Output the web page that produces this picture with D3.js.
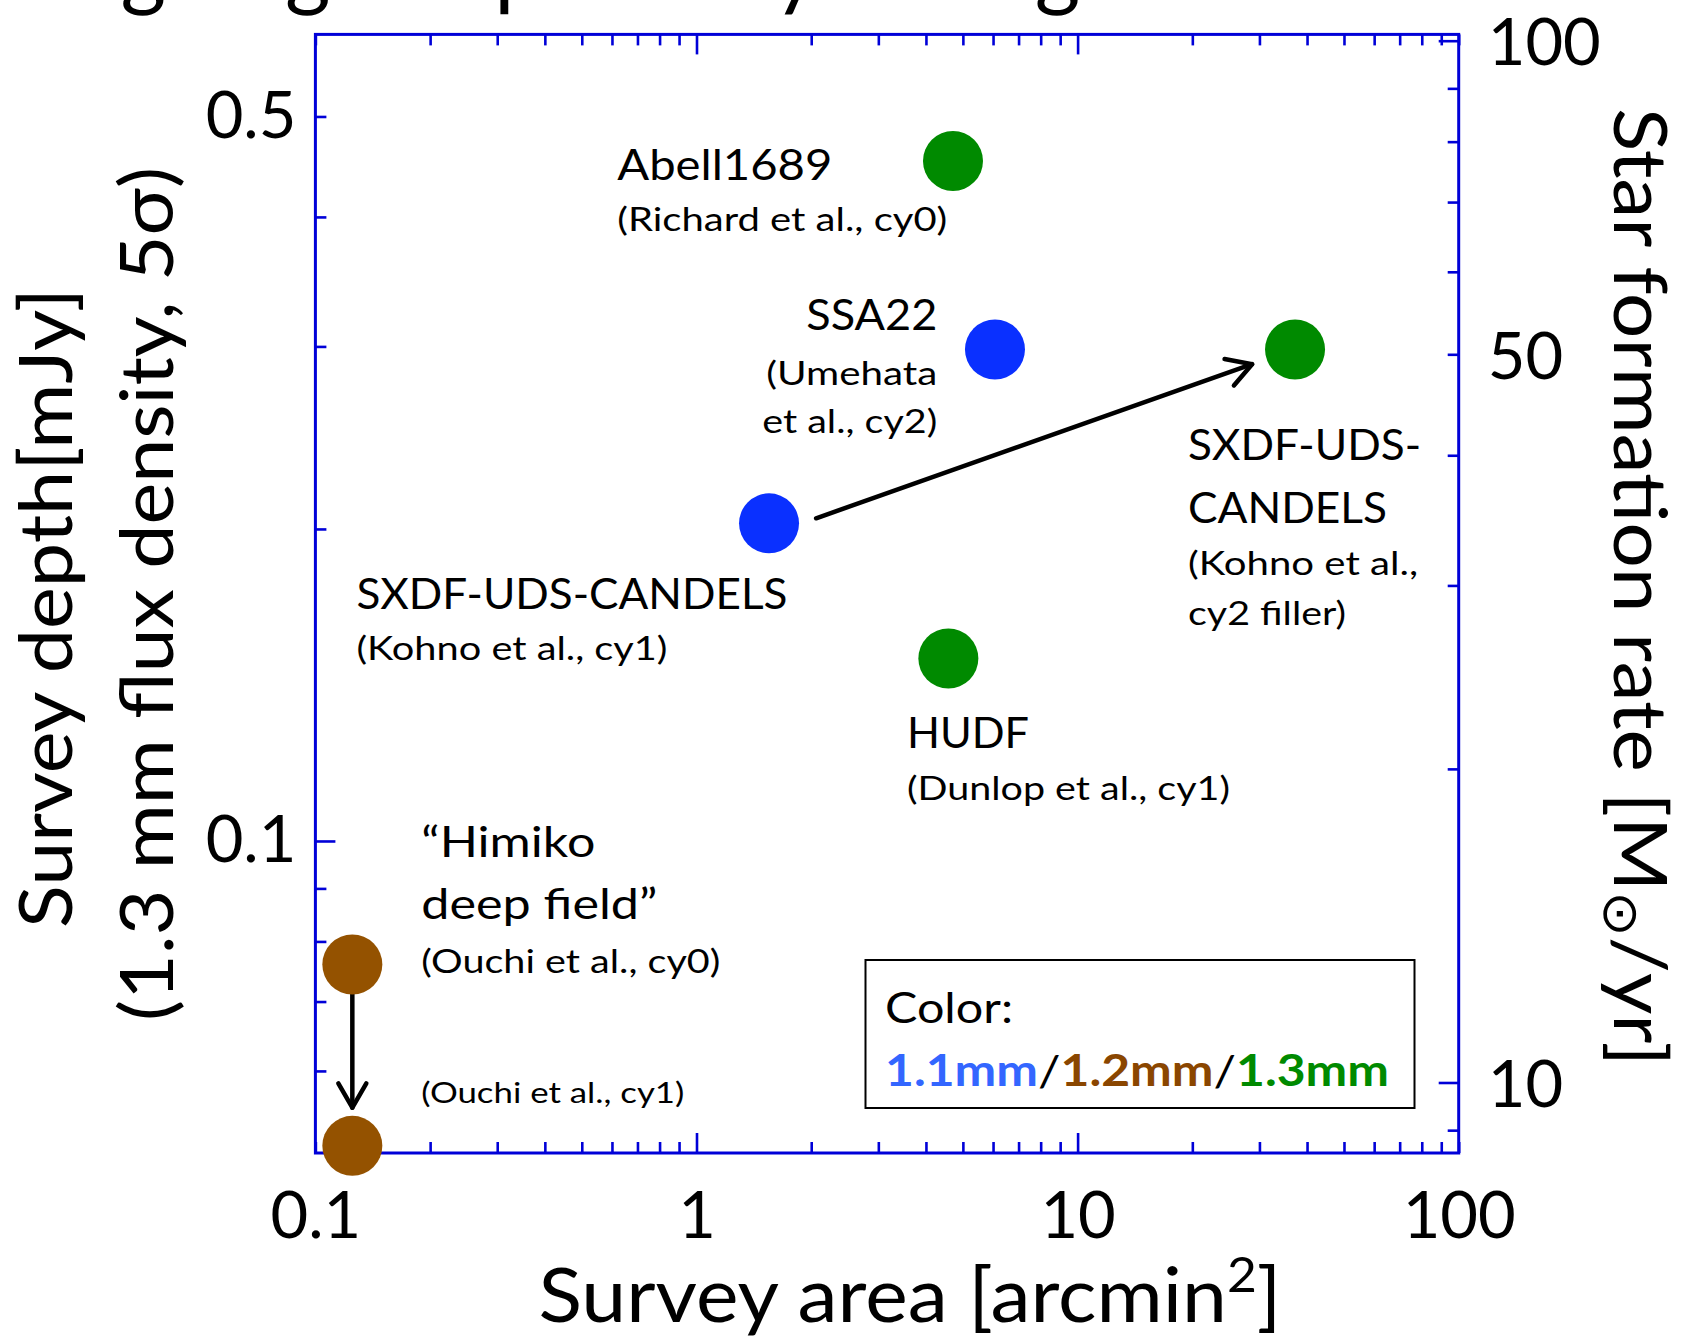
<!DOCTYPE html>
<html><head><meta charset="utf-8">
<script src="https://cdn.jsdelivr.net/npm/d3@7"></script>
<style>
html,body{margin:0;padding:0;background:#fff;}
svg{display:block;}
text{font-family:Lato,"Noto Sans","DejaVu Sans",sans-serif;fill:#000;}
</style></head><body>
<svg id="chart" width="1688" height="1337"></svg>
<script>
// ---- survey data: one entry per ALMA observation ----
const fields  = ["Abell1689", "SSA22", "SXDF-UDS-CANDELS", "SXDF-UDS-CANDELS", "HUDF", "Himiko", "Himiko"];
const cycles  = ["cy0", "cy2", "cy1", "cy2 filler", "cy1", "cy0", "cy1"];
const areas   = [4.71, 6.07, 1.55, 37.2, 4.58, 0.125, 0.125];          // arcmin^2
const depths  = [0.453, 0.298, 0.2025, 0.298, 0.150, 0.076, 0.0508];   // mJy (1.3 mm, 5 sigma)
const bands   = ["1.3mm", "1.1mm", "1.1mm", "1.3mm", "1.3mm", "1.2mm", "1.2mm"];
const bandNames = ["1.1mm", "1.2mm", "1.3mm"];

// annotation text for each observation
const labelLines = [
  ["Abell1689", "(Richard et al., cy0)"],
  ["SSA22", "(Umehata", "et al., cy2)"],
  ["SXDF-UDS-CANDELS", "(Kohno et al., cy1)"],
  ["SXDF-UDS-", "CANDELS", "(Kohno et al.,", "cy2 filler)"],
  ["HUDF", "(Dunlop et al., cy1)"],
  ["\u201CHimiko", "deep field\u201D", "(Ouchi et al., cy0)"],
  ["(Ouchi et al., cy1)"]
];

// follow-up arrows (area, depth) -> (area, depth)
const arrowFromArea  = [2.06, 0.125];
const arrowFromDepth = [0.2048, 0.0712];
const arrowToArea    = [28.7, 0.125];
const arrowToDepth   = [0.2884, 0.0553];

// axis ticks
const xTicks = [0.1,0.2,0.3,0.4,0.5,0.6,0.7,0.8,0.9,1,2,3,4,5,6,7,8,9,10,20,30,40,50,60,70,80,90,100];
const xLabels = [0.1, 1, 10, 100];
const xMajor = [1, 10];
const yTicks = [0.06,0.07,0.08,0.09,0.1,0.2,0.3,0.4,0.5];
const yLabels = [0.1, 0.5];
const yMajor = [0.1];
const sfrTicks = [9,10,20,30,40,50,60,70,80,90,100];
const sfrLabels = [10, 50, 100];
const sfrMajor = [10, 100];

// ---- layout & style ----
const plot = {left: 315.4, right: 1458.7, top: 34.4, bottom: 1153};
const axisColor = "#0000d8";
const bandColor = {"1.1mm": "#0a30ff", "1.2mm": "#945200", "1.3mm": "#008a00"};
const bandTextColor = {"1.1mm": "#3366ff", "1.2mm": "#8a4600", "1.3mm": "#008a00"};
const markerR = 30;
const fontBig = 42, fontSmall = 33, fontTiny = 29;

// label placement relative to each marker: dx, anchor, and per line [dy, size, width]
const labelLayout = [
  {dx: -335.7, anchor: "start", lines: [[18.7, fontBig, 215], [69.7, fontSmall, 330]]},
  {dx: -57.7, anchor: "end", lines: [[-19.8, fontBig, 131], [35.2, fontSmall, 171], [83.2, fontSmall, 175]]},
  {dx: -412.6, anchor: "start", lines: [[85.9, fontBig, 431], [136.9, fontSmall, 311]]},
  {dx: -107, anchor: "start", lines: [[110.2, fontBig, 233], [173.2, fontBig, 199], [225.2, fontSmall, 230], [275.2, fontSmall, 158]]},
  {dx: -41.4, anchor: "start", lines: [[89.3, fontBig, 122], [141.3, fontSmall, 323]]},
  {dx: 69, anchor: "start", lines: [[-107.5, fontBig, 174], [-45.5, fontBig, 236], [8.5, fontSmall, 299]]},
  {dx: 69, anchor: "start", lines: [[-43.3, fontTiny, 263]]}
];

const svg = d3.select("#chart");

const x = d3.scaleLog().domain([0.1, 100]).range([plot.left, plot.right]);
const y = d3.scaleLog().domain([0.05, 0.6]).range([plot.bottom, plot.top]);
const ySfr = d3.scaleLog().domain([8.557, 101.4]).range([plot.bottom, plot.top]);

// heading, mostly above the visible area
svg.append("text")
  .attr("x", 2.5).attr("y", -1)
  .attr("font-size", 88)
  .attr("textLength", 1342).attr("lengthAdjust", "spacingAndGlyphs")
  .text("Ongoing deep surveys using ALMA");

// ---- axes ----
const minorLen = 11, majorLen = 20;
function styleAxis(g, labels) {
  g.select(".domain").remove();
  g.selectAll(".tick line").attr("stroke", axisColor).attr("stroke-width", 2.6);
  g.selectAll(".tick text")
    .attr("font-family", "Lato, 'Noto Sans', sans-serif")
    .attr("font-size", 65).attr("fill", "#000")
    .text(d => labels.includes(d) ? String(d) : "");
}

const gBottom = svg.append("g").attr("transform", `translate(0,${plot.bottom})`)
  .call(d3.axisBottom(x).tickValues(xTicks).tickSizeOuter(0).tickSizeInner(-minorLen).tickPadding(39));
styleAxis(gBottom, xLabels);
gBottom.selectAll(".tick line").attr("y2", d => xMajor.includes(d) ? -majorLen : -minorLen);

const gTop = svg.append("g").attr("transform", `translate(0,${plot.top})`)
  .call(d3.axisTop(x).tickValues(xTicks).tickSizeOuter(0).tickSizeInner(-minorLen));
styleAxis(gTop, []);
gTop.selectAll(".tick line").attr("y2", d => xMajor.includes(d) ? majorLen : minorLen);

const gLeft = svg.append("g").attr("transform", `translate(${plot.left},0)`)
  .call(d3.axisLeft(y).tickValues(yTicks).tickSizeOuter(0).tickSizeInner(-minorLen).tickPadding(19));
styleAxis(gLeft, yLabels);
gLeft.selectAll(".tick line").attr("x2", d => yMajor.includes(d) ? majorLen : minorLen);

const gRight = svg.append("g").attr("transform", `translate(${plot.right},0)`)
  .call(d3.axisRight(ySfr).tickValues(sfrTicks).tickSizeOuter(0).tickSizeInner(-minorLen).tickPadding(29));
styleAxis(gRight, sfrLabels);
gRight.selectAll(".tick line").attr("x2", d => sfrMajor.includes(d) ? -majorLen : -minorLen);
gRight.selectAll(".tick text").attr("dy", "0.37em");

// frame
svg.append("rect")
  .attr("x", plot.left).attr("y", plot.top)
  .attr("width", plot.right - plot.left).attr("height", plot.bottom - plot.top)
  .attr("fill", "none").attr("stroke", axisColor).attr("stroke-width", 3);

// ---- axis titles ----
const xt = svg.append("text")
  .attr("x", 910).attr("y", 1322)
  .attr("text-anchor", "middle").attr("font-size", 75)
  .attr("textLength", 743).attr("lengthAdjust", "spacingAndGlyphs");
xt.append("tspan").text("Survey area [arcmin");
xt.append("tspan").attr("font-size", 48).attr("dy", -30).text("2");
xt.append("tspan").attr("dy", 30).text("]");

svg.append("text")
  .attr("transform", "translate(72,608) rotate(-90)")
  .attr("text-anchor", "middle").attr("font-size", 74)
  .attr("textLength", 640).attr("lengthAdjust", "spacingAndGlyphs")
  .text("Survey depth[mJy]");
svg.append("text")
  .attr("transform", "translate(173,594) rotate(-90)")
  .attr("text-anchor", "middle").attr("font-size", 74)
  .attr("textLength", 854).attr("lengthAdjust", "spacingAndGlyphs")
  .text("(1.3 mm flux density, 5\u03C3)");

const rt = svg.append("text")
  .attr("transform", "translate(1614,587) rotate(90)")
  .attr("text-anchor", "middle").attr("font-size", 74)
  .attr("textLength", 958).attr("lengthAdjust", "spacingAndGlyphs");
rt.append("tspan").text("Star formation rate [M");
rt.append("tspan").attr("font-size", 50).attr("dy", 10).text("\u2299");
rt.append("tspan").attr("dy", -10).text("/yr]");

// ---- arrows ----
function arrow(x0, y0, x1, y1) {
  const ang = Math.atan2(y1 - y0, x1 - x0), L = 28, a = Math.PI / 6;
  const g = svg.append("g").attr("stroke", "#000").attr("stroke-width", 4.5)
    .attr("fill", "none").attr("stroke-linecap", "round").attr("stroke-linejoin", "round");
  g.append("line").attr("x1", x0).attr("y1", y0).attr("x2", x1).attr("y2", y1);
  g.append("path").attr("d",
    `M${x1 - L * Math.cos(ang - a)},${y1 - L * Math.sin(ang - a)}L${x1},${y1}L${x1 - L * Math.cos(ang + a)},${y1 - L * Math.sin(ang + a)}`);
}
arrowFromArea.forEach((_, i) =>
  arrow(x(arrowFromArea[i]), y(arrowFromDepth[i]), x(arrowToArea[i]), y(arrowToDepth[i])));

// ---- markers ----
svg.append("g").selectAll("circle")
  .data(areas.map((a, i) => ({area: a, depth: depths[i], band: bands[i]})))
  .join("circle")
  .attr("cx", d => x(d.area)).attr("cy", d => y(d.depth))
  .attr("r", markerR).attr("fill", d => bandColor[d.band]);

// ---- labels ----
labelLines.forEach((lines, i) => {
  const lay = labelLayout[i];
  const px = x(areas[i]) + lay.dx, py = y(depths[i]);
  lines.forEach((txt, j) => {
    const [dy, size, width] = lay.lines[j];
    svg.append("text")
      .attr("x", px).attr("y", py + dy)
      .attr("text-anchor", lay.anchor)
      .attr("font-size", size)
      .attr("textLength", width).attr("lengthAdjust", "spacingAndGlyphs")
      .text(txt);
  });
});

// ---- legend ----
const lg = svg.append("g");
lg.append("rect").attr("x", 865.5).attr("y", 960).attr("width", 549).attr("height", 148)
  .attr("fill", "#fff").attr("stroke", "#000").attr("stroke-width", 2);
lg.append("text").attr("x", 885).attr("y", 1023).attr("font-size", 43)
  .attr("textLength", 128).attr("lengthAdjust", "spacingAndGlyphs").text("Color:");
const lt = lg.append("text").attr("x", 885).attr("y", 1086).attr("font-size", 43)
  .attr("font-weight", "bold")
  .attr("textLength", 504).attr("lengthAdjust", "spacingAndGlyphs");
bandNames.forEach((b, i) => {
  if (i > 0) lt.append("tspan").attr("font-weight", "normal").style("fill", "#000").text("/");
  lt.append("tspan").style("fill", bandTextColor[b]).text(b);
});
</script>
</body></html>
